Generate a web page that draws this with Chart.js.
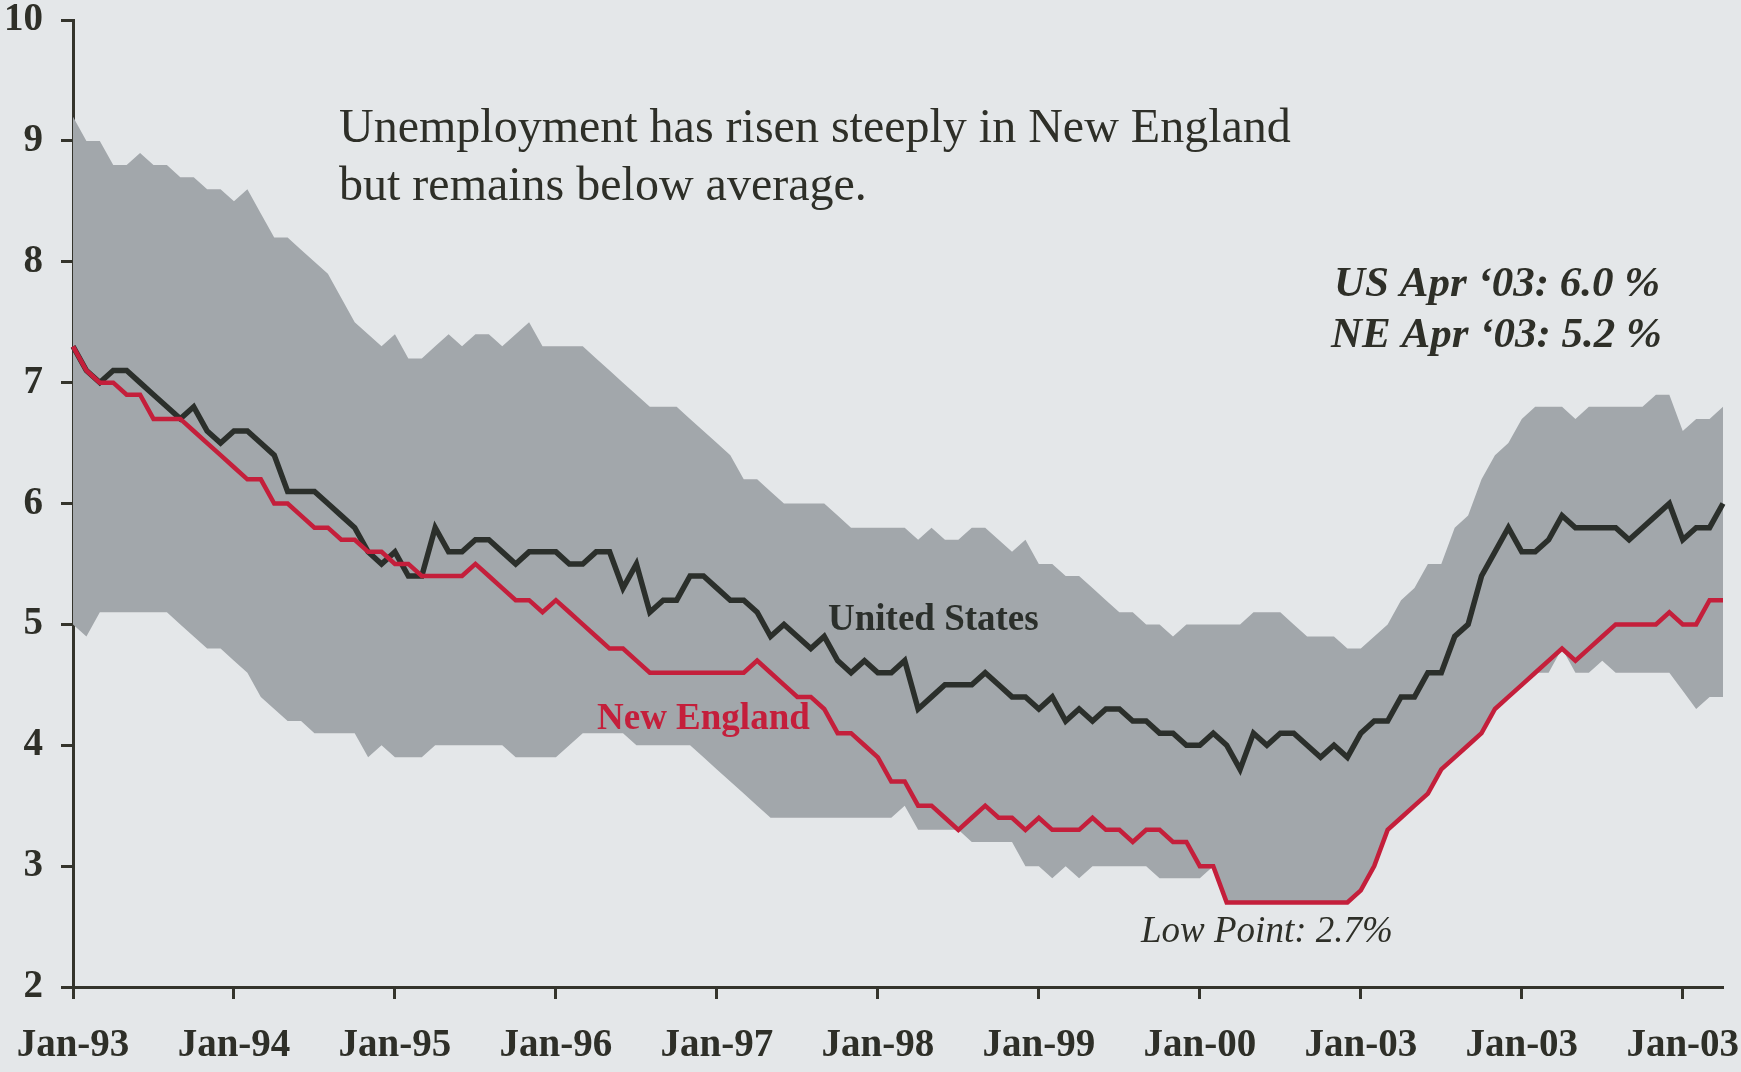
<!DOCTYPE html>
<html>
<head>
<meta charset="utf-8">
<script src="https://cdn.jsdelivr.net/npm/chart.js@4.4.1/dist/chart.umd.min.js"></script>
<style>
  html, body { margin: 0; padding: 0; background: #e4e7e9; }
  #wrap { position: relative; width: 1741px; height: 1072px; background: #e4e7e9; }
  canvas { display: block; }
</style>
</head>
<body>
<div id="wrap"><canvas id="chart" width="1741" height="1072"></canvas></div>
<script>
// ---------------- data ----------------
const startYear = 1993;
const monthNames = ['Jan','Feb','Mar','Apr','May','Jun','Jul','Aug','Sep','Oct','Nov','Dec'];

// x-axis tick labels (one per January, as printed on the original)
const tickLabels = ['Jan-93','Jan-94','Jan-95','Jan-96','Jan-97','Jan-98','Jan-99','Jan-00','Jan-03','Jan-03','Jan-03'];

// United States unemployment rate, monthly Jan-93 .. Apr-03
const usRate = [
  7.3, 7.1, 7.0, 7.1, 7.1, 7.0, 6.9, 6.8, 6.7, 6.8, 6.6, 6.5,
  6.6, 6.6, 6.5, 6.4, 6.1, 6.1, 6.1, 6.0, 5.9, 5.8, 5.6, 5.5,
  5.6, 5.4, 5.4, 5.8, 5.6, 5.6, 5.7, 5.7, 5.6, 5.5, 5.6, 5.6,
  5.6, 5.5, 5.5, 5.6, 5.6, 5.3, 5.5, 5.1, 5.2, 5.2, 5.4, 5.4,
  5.3, 5.2, 5.2, 5.1, 4.9, 5.0, 4.9, 4.8, 4.9, 4.7, 4.6, 4.7,
  4.6, 4.6, 4.7, 4.3, 4.4, 4.5, 4.5, 4.5, 4.6, 4.5, 4.4, 4.4,
  4.3, 4.4, 4.2, 4.3, 4.2, 4.3, 4.3, 4.2, 4.2, 4.1, 4.1, 4.0,
  4.0, 4.1, 4.0, 3.8, 4.1, 4.0, 4.1, 4.1, 4.0, 3.9, 4.0, 3.9,
  4.1, 4.2, 4.2, 4.4, 4.4, 4.6, 4.6, 4.9, 5.0, 5.4, 5.6, 5.8,
  5.6, 5.6, 5.7, 5.9, 5.8, 5.8, 5.8, 5.8, 5.7, 5.8, 5.9, 6.0,
  5.7, 5.8, 5.8, 6.0
];

// New England unemployment rate
const neRate = [
  7.3, 7.1, 7.0, 7.0, 6.9, 6.9, 6.7, 6.7, 6.7, 6.6, 6.5, 6.4,
  6.3, 6.2, 6.2, 6.0, 6.0, 5.9, 5.8, 5.8, 5.7, 5.7, 5.6, 5.6,
  5.5, 5.5, 5.4, 5.4, 5.4, 5.4, 5.5, 5.4, 5.3, 5.2, 5.2, 5.1,
  5.2, 5.1, 5.0, 4.9, 4.8, 4.8, 4.7, 4.6, 4.6, 4.6, 4.6, 4.6,
  4.6, 4.6, 4.6, 4.7, 4.6, 4.5, 4.4, 4.4, 4.3, 4.1, 4.1, 4.0,
  3.9, 3.7, 3.7, 3.5, 3.5, 3.4, 3.3, 3.4, 3.5, 3.4, 3.4, 3.3,
  3.4, 3.3, 3.3, 3.3, 3.4, 3.3, 3.3, 3.2, 3.3, 3.3, 3.2, 3.2,
  3.0, 3.0, 2.7, 2.7, 2.7, 2.7, 2.7, 2.7, 2.7, 2.7, 2.7, 2.7,
  2.8, 3.0, 3.3, 3.4, 3.5, 3.6, 3.8, 3.9, 4.0, 4.1, 4.3, 4.4,
  4.5, 4.6, 4.7, 4.8, 4.7, 4.8, 4.9, 5.0, 5.0, 5.0, 5.0, 5.1,
  5.0, 5.0, 5.2, 5.2
];

// Shaded range: upper edge
const rangeHigh = [
  9.2, 9.0, 9.0, 8.8, 8.8, 8.9, 8.8, 8.8, 8.7, 8.7, 8.6, 8.6,
  8.5, 8.6, 8.4, 8.2, 8.2, 8.1, 8.0, 7.9, 7.7, 7.5, 7.4, 7.3,
  7.4, 7.2, 7.2, 7.3, 7.4, 7.3, 7.4, 7.4, 7.3, 7.4, 7.5, 7.3,
  7.3, 7.3, 7.3, 7.2, 7.1, 7.0, 6.9, 6.8, 6.8, 6.8, 6.7, 6.6,
  6.5, 6.4, 6.2, 6.2, 6.1, 6.0, 6.0, 6.0, 6.0, 5.9, 5.8, 5.8,
  5.8, 5.8, 5.8, 5.7, 5.8, 5.7, 5.7, 5.8, 5.8, 5.7, 5.6, 5.7,
  5.5, 5.5, 5.4, 5.4, 5.3, 5.2, 5.1, 5.1, 5.0, 5.0, 4.9, 5.0,
  5.0, 5.0, 5.0, 5.0, 5.1, 5.1, 5.1, 5.0, 4.9, 4.9, 4.9, 4.8,
  4.8, 4.9, 5.0, 5.2, 5.3, 5.5, 5.5, 5.8, 5.9, 6.2, 6.4, 6.5,
  6.7, 6.8, 6.8, 6.8, 6.7, 6.8, 6.8, 6.8, 6.8, 6.8, 6.9, 6.9,
  6.6, 6.7, 6.7, 6.8
];

// Shaded range: lower edge
const rangeLow = [
  5.0, 4.9, 5.1, 5.1, 5.1, 5.1, 5.1, 5.1, 5.0, 4.9, 4.8, 4.8,
  4.7, 4.6, 4.4, 4.3, 4.2, 4.2, 4.1, 4.1, 4.1, 4.1, 3.9, 4.0,
  3.9, 3.9, 3.9, 4.0, 4.0, 4.0, 4.0, 4.0, 4.0, 3.9, 3.9, 3.9,
  3.9, 4.0, 4.1, 4.1, 4.1, 4.1, 4.0, 4.0, 4.0, 4.0, 4.0, 3.9,
  3.8, 3.7, 3.6, 3.5, 3.4, 3.4, 3.4, 3.4, 3.4, 3.4, 3.4, 3.4,
  3.4, 3.4, 3.5, 3.3, 3.3, 3.3, 3.3, 3.2, 3.2, 3.2, 3.2, 3.0,
  3.0, 2.9, 3.0, 2.9, 3.0, 3.0, 3.0, 3.0, 3.0, 2.9, 2.9, 2.9,
  2.9, 3.0, 2.7, 2.7, 2.7, 2.7, 2.7, 2.7, 2.7, 2.7, 2.7, 2.7,
  2.8, 3.0, 3.3, 3.4, 3.5, 3.6, 3.8, 3.9, 4.0, 4.1, 4.3, 4.4,
  4.5, 4.6, 4.6, 4.8, 4.6, 4.6, 4.7, 4.6, 4.6, 4.6, 4.6, 4.6,
  4.45, 4.3, 4.4, 4.4
];

// monthly category labels
const categories = usRate.map((_, i) =>
  monthNames[i % 12] + '-' + String((startYear + Math.floor(i / 12)) % 100).padStart(2, '0'));

// text
const titleLines = ['Unemployment has risen steeply in New England', 'but remains below average.'];
const noteLines = ['US Apr \u201803: 6.0 %', 'NE Apr \u201803: 5.2 %'];
const usLabel = 'United States';
const neLabel = 'New England';
const lowLabel = 'Low Point: 2.7%';

// ---------------- style ----------------
const inkColor = '#2e2f28';
const axisColor = '#34342c';
const usColor = '#2b2f2b';
const neColor = '#c41f3b';
const bandColor = '#a2a7ab';
const serif = '"Liberation Serif", "Times New Roman", serif';

const annotationPlugin = {
  id: 'annotations',
  afterDraw(chart) {
    const ctx = chart.ctx;
    ctx.save();
    ctx.textAlign = 'left';
    ctx.textBaseline = 'alphabetic';

    ctx.fillStyle = inkColor;
    ctx.font = '48px ' + serif;
    ctx.fillText(titleLines[0], 339, 142);
    ctx.fillText(titleLines[1], 339, 200);

    ctx.font = 'italic bold 43px ' + serif;
    ctx.fillText(noteLines[0], 1334, 296);
    ctx.fillText(noteLines[1], 1331, 347);

    ctx.font = 'bold 37px ' + serif;
    ctx.fillStyle = usColor;
    ctx.fillText(usLabel, 828, 630);
    ctx.fillStyle = neColor;
    ctx.fillText(neLabel, 597, 729);

    ctx.font = 'italic 37px ' + serif;
    ctx.fillStyle = inkColor;
    ctx.fillText(lowLabel, 1141, 942);
    ctx.restore();
  }
};

new Chart(document.getElementById('chart'), {
  type: 'line',
  data: {
    labels: categories,
    datasets: [
      { label: 'New England', data: neRate, borderColor: neColor, borderWidth: 4.5,
        pointRadius: 0, fill: false, tension: 0, order: 0 },
      { label: 'United States', data: usRate, borderColor: usColor, borderWidth: 5.5,
        pointRadius: 0, fill: false, tension: 0, order: 1 },
      { label: 'High', data: rangeHigh, borderColor: 'rgba(0,0,0,0)', borderWidth: 0,
        backgroundColor: bandColor, pointRadius: 0, fill: 3, tension: 0, order: 2 },
      { label: 'Low', data: rangeLow, borderColor: 'rgba(0,0,0,0)', borderWidth: 0,
        pointRadius: 0, fill: false, tension: 0, order: 3 }
    ]
  },
  options: {
    responsive: false,
    animation: false,
    devicePixelRatio: 1,
    layout: { padding: { left: 0, right: 18, top: 20, bottom: 0 } },
    plugins: {
      legend: { display: false },
      tooltip: { enabled: false },
      filler: { propagate: false }
    },
    scales: {
      x: {
        type: 'category',
        offset: false,
        grid: { display: true, drawOnChartArea: false, drawTicks: true,
                tickLength: 12, tickWidth: 3, tickColor: axisColor },
        border: { display: true, color: axisColor, width: 3 },
        ticks: {
          autoSkip: false, maxRotation: 0, minRotation: 0, padding: 24,
          color: inkColor,
          font: { family: serif, weight: 'bold', size: 39, lineHeight: 1.2 },
          callback: (val, idx) => (idx % 12 === 0 ? tickLabels[idx / 12] : null)
        },
        afterFit: (scale) => { scale.height = 85; scale.paddingLeft = 0; scale.paddingRight = 0; }
      },
      y: {
        type: 'linear',
        min: 2, max: 10,
        grid: { display: true, drawOnChartArea: false, drawTicks: true,
                tickLength: 12, tickWidth: 3, tickColor: axisColor },
        border: { display: true, color: axisColor, width: 3 },
        ticks: {
          stepSize: 1, padding: 18, color: inkColor,
          font: { family: serif, weight: 'bold', size: 39, lineHeight: 1.0 }
        },
        afterFit: (scale) => { scale.width = 73; scale.paddingTop = 0; scale.paddingBottom = 0; }
      }
    }
  },
  plugins: [annotationPlugin]
});
</script>
</body>
</html>
